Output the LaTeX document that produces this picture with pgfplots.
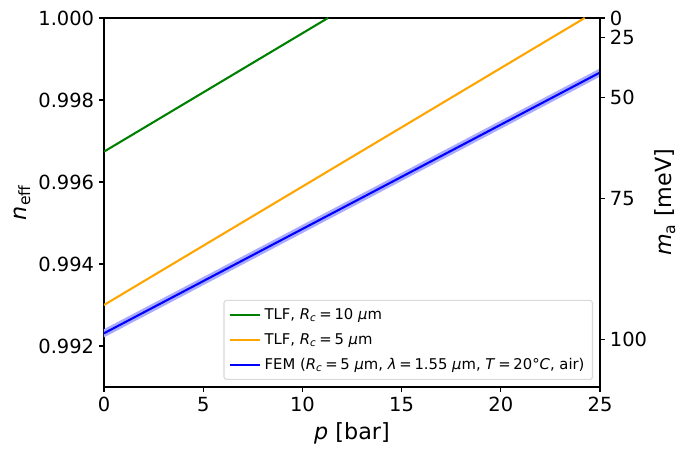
\documentclass[border=0pt]{standalone}
\usepackage{fontspec}
\setmainfont{DejaVu Sans}
\usepackage{pgfplots}
\usetikzlibrary{calc}
\pgfplotsset{compat=1.18}
\definecolor{mplgreen}{RGB}{0,128,0}
\definecolor{mplorange}{RGB}{255,165,0}
\definecolor{mplblue}{RGB}{0,0,255}
\definecolor{bandblue}{RGB}{170,170,255}
\newcommand{\eq}{\kern2.1pt=\kern2.1pt}
\pgfplotsset{
  common/.style={
    scale only axis, width=372pt, height=276.75pt,
    xmin=0, xmax=25, ymin=0.991, ymax=1.000,
    tick align=outside, major tick length=3.65pt,
    tick style={black, line width=0.83pt},
    axis line style={line width=0.83pt},
    every axis/.append style={line width=0.83pt},
    /pgf/number format/assume math mode=true,
    tick label style={font=\fontsize{14.6}{17}\selectfont},
    label style={font=\fontsize{16.7}{20}\selectfont},
  }
}
\begin{document}
\begin{tikzpicture}
\begin{axis}[common, name=ax,
  xtick={0,5,10,15,20,25}, xtick pos=left, ytick pos=left,
  ytick={0.992,0.994,0.996,0.998,1.000},
  yticklabel style={/pgf/number format/.cd, fixed, fixed zerofill, precision=3},
  xlabel={\textit{p} [bar]},
  ylabel={\textit{n}\textsubscript{eff}},
  xlabel style={at={(axis description cs:0.5,-0.125)}, anchor=center},
  ylabel style={at={(axis description cs:-0.165,0.5)}, anchor=center},
  legend cell align=left,
  legend style={at={(0.986,0.019)}, anchor=south east,
    draw=black!15, rounded corners=2pt, fill=white, fill opacity=0.8, text opacity=1,
    font=\fontsize{11.1}{12.5}\selectfont, row sep=4pt, inner sep=3.5pt,
    nodes={inner sep=2.5pt}},
  legend image code/.code={\draw[#1, line width=1.56pt] (0pt,0pt) -- (23pt,0pt);},
]
\addplot[draw=none, fill=bandblue, forget plot] coordinates {
  (0,0.99221) (25,0.99857) (25,0.99877) (0,0.99241)} -- cycle;
\addplot[mplgreen, line width=1.56pt] coordinates {(0,0.99674) (11.29,1.000)};
\addlegendentry{TLF, \textit{R}\textsubscript{\textit{c}}\eq10 \textit{μ}m}
\addplot[mplorange, line width=1.56pt] coordinates {(0,0.99300) (24.23,1.000)};
\addlegendentry{TLF, \textit{R}\textsubscript{\textit{c}}\eq5 \textit{μ}m}
\addplot[mplblue, line width=1.56pt] coordinates {(0,0.99231) (25,0.99867)};
\addlegendentry{FEM (\textit{R}\textsubscript{\textit{c}}\eq5 \textit{μ}m, \textit{λ}\eq1.55 \textit{μ}m, \textit{T}\eq20°\textit{C}, air)}
\end{axis}
\begin{axis}[common,
  axis x line=none, axis y line*=right,
  ytick={1.000,0.99952,0.99807,0.99559,0.99215},
  yticklabels={0,25,50,75,100},
  ylabel={\textit{m}\textsubscript{a} [meV]},
  ylabel style={at={(axis description cs:1.131,0.5)}, anchor=center, rotate=0},
]
\addplot[draw=none] coordinates {(0,0.995) (1,0.995)};
\end{axis}
\path (ax.south west) ++(-78pt,-54pt) rectangle ($(ax.north east)+(66pt,13.5pt)$);
\end{tikzpicture}
\end{document}
